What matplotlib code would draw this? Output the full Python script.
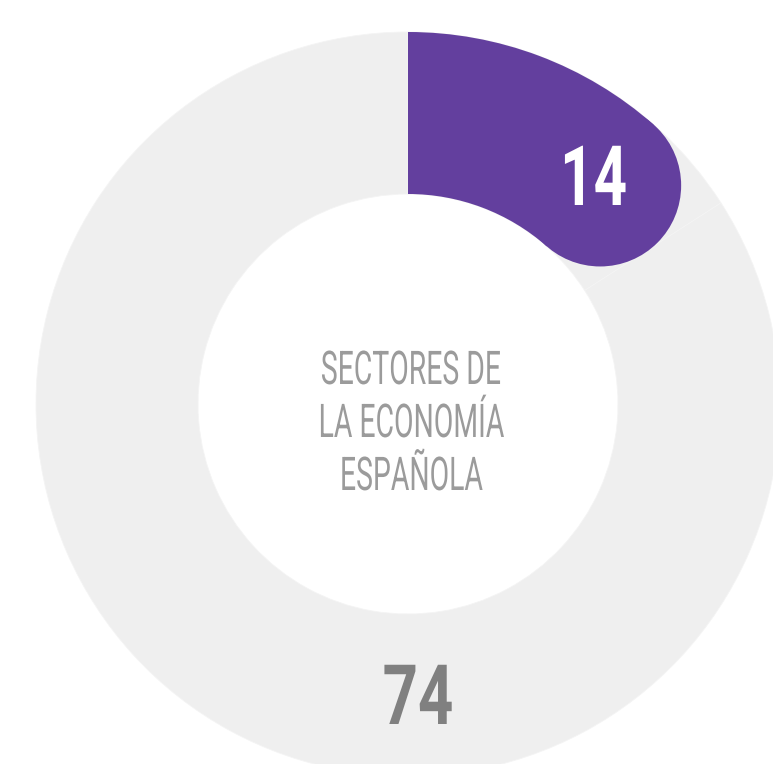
import numpy as np
import matplotlib
matplotlib.use("Agg")
import matplotlib.pyplot as plt
from matplotlib.patches import Wedge, Circle
from matplotlib.patheffects import AbstractPathEffect
from matplotlib.transforms import Affine2D

# ---- data ----
categories = ["Sectores destacados", "Resto"]
values = [14, 74]
value_labels = ["14", "74"]
center_lines = ["SECTORES DE", "LA ECONOMÍA", "ESPAÑOLA"]

# ---- style ----
W, H = 773, 764
PURPLE = "#633F9E"
RING = "#EFEFEF"
CENTER_TXT = "#9B9B9B"
NUM_GRAY = "#808080"


class HSqueeze(AbstractPathEffect):
    """Horizontally condense glyphs around their own centre."""
    def __init__(self, sx):
        super().__init__()
        self.sx = sx

    def draw_path(self, renderer, gc, tpath, affine, rgbFace=None):
        ext = tpath.transformed(affine).get_extents()
        cx = 0.5 * (ext.x0 + ext.x1)
        new = affine + Affine2D().translate(-cx, 0).scale(self.sx, 1).translate(cx, 0)
        renderer.draw_path(gc, tpath, new, rgbFace)


fig = plt.figure(figsize=(W / 100, H / 100), dpi=100)
ax = fig.add_axes([0, 0, 1, 1])

cx, cy = 408, 360
r_out, r_in = 372, 210
width = r_out - r_in
r_mid = (r_out + r_in) / 2
cap_r = width / 2

# background ring split by data (gives the faint seam)
ax.pie(values, colors=[RING, RING], startangle=90, counterclock=False,
       radius=r_out, center=(cx, cy),
       wedgeprops=dict(width=width, edgecolor="#F4F4F4", linewidth=0.6))

# highlighted share with rounded end cap inside its angular extent
total = sum(values)
span = values[0] / total * 360.0
cap_deg = np.degrees(cap_r / r_mid)
end_deg = 90 - (span - cap_deg)
ax.add_patch(Wedge((cx, cy), r_out, end_deg, 90, width=width,
                   facecolor=PURPLE, edgecolor="none", zorder=3))
ax.add_patch(Circle((cx + r_mid * np.cos(np.radians(end_deg)),
                     cy + r_mid * np.sin(np.radians(end_deg))), cap_r,
                    facecolor=PURPLE, edgecolor="none", zorder=3))

# numbers
num_font = dict(family=["Roboto", "DejaVu Sans"], weight="bold", fontsize=60)
ax.text(593, 559, value_labels[0], color="white", ha="center", va="baseline",
        zorder=5, path_effects=[HSqueeze(0.70)], **num_font)
ax.text(418, 40, value_labels[1], color=NUM_GRAY, ha="center", va="baseline",
        zorder=5, path_effects=[HSqueeze(0.74)], **num_font)

# centre label
baselines = [380, 327, 274]
for line, yb in zip(center_lines, baselines):
    ax.text(411, yb, line, color=CENTER_TXT, ha="center", va="baseline",
            family=["Roboto", "DejaVu Sans"], weight="normal", fontsize=33.5,
            path_effects=[HSqueeze(0.61)], zorder=5)

ax.set_xlim(0, W)
ax.set_ylim(0, H)
ax.set_aspect("equal")
ax.axis("off")
fig.savefig("out.png", dpi=100)
